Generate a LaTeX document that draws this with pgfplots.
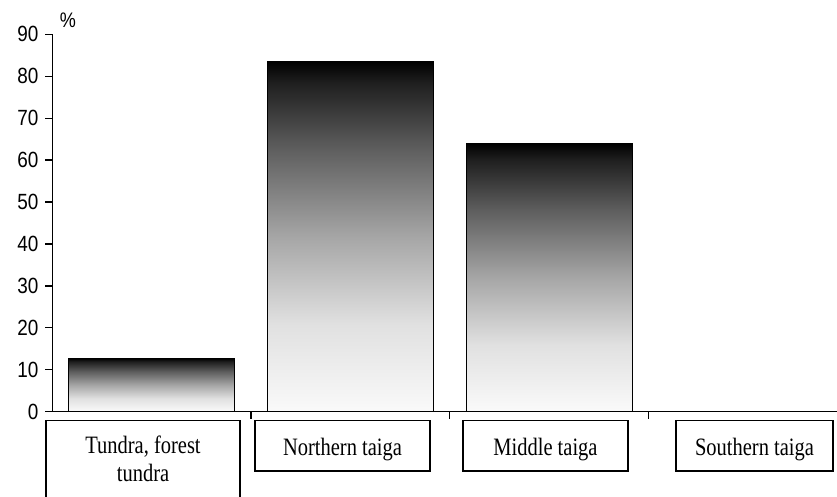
\documentclass[border=0pt]{standalone}
\usepackage{fontspec}
\setmainfont{Liberation Serif}[FakeStretch=0.82]
\newfontfamily\ticksans{Liberation Sans}[FakeStretch=0.86]
\usepackage{pgfplots}
\pgfplotsset{compat=1.18}

% bar gradient: black at the top, fading quickly to almost white
\pgfdeclareverticalshading{barshade}{100bp}{%
  color(0bp)=(black!2); color(25bp)=(black!2); color(37.5bp)=(black!12);
  color(50bp)=(black!35); color(62.5bp)=(black!63); color(72bp)=(black!88);
  color(75bp)=(black); color(100bp)=(black)}

\pgfplotsset{
  zonebar/.style={ybar, bar width=0.834, bar shift=0pt,
    draw=black, line width=0.8bp, shade, shading=barshade},
}

\begin{document}
\begin{tikzpicture}
\begin{axis}[
  at={(0,0)}, anchor=south west,
  scale only axis, width=784.7bp, height=377.4bp,
  xmin=-0.5, xmax=3.449, ymin=0, ymax=90,
  axis lines=left,
  axis line style={-, line width=1.3bp},
  ytick={0,10,...,90},
  xtick={0.5,1.5,2.5}, xticklabels={},
  tick align=outside, major tick length=6.8bp,
  tick style={line width=1.3bp, black},
  /pgf/number format/assume math mode=true,
  yticklabel style={font=\ticksans\fontsize{22bp}{22bp}\selectfont, xshift=-3.5bp},
  clip=false,
]
% share of area by zone, %; one plot per bar so each gets its own gradient
\addplot[zonebar] coordinates {(0,12.7)};
\addplot[zonebar] coordinates {(1,83.5)};
\addplot[zonebar] coordinates {(2,64.0)};
\addplot[zonebar] coordinates {(3,0)};
\end{axis}

% unit label of the value axis
\node[font=\ticksans\fontsize{21bp}{21bp}\selectfont] at (15.7bp,391.7bp) {\%};

% framed zone names under the axis
\begin{scope}[line width=1.5bp, font=\fontsize{25bp}{30bp}\selectfont]
  \draw (-6.3bp,-110bp) -- (-6.3bp,-8.8bp) -- (187.7bp,-8.8bp) -- (187.7bp,-110bp);
  \node[anchor=base] at (90.7bp,-41.6bp) {Tundra, forest};
  \node[anchor=base] at (90.7bp,-70bp) {tundra};

  \draw (202.7bp,-8.8bp) rectangle (377.7bp,-59.3bp);
  \node[anchor=base] at (290.2bp,-43.3bp) {Northern taiga};

  \draw (410.7bp,-8.8bp) rectangle (575.7bp,-59.3bp);
  \node[anchor=base] at (493.2bp,-43.3bp) {Middle taiga};

  \draw (623.7bp,-8.8bp) rectangle (780.7bp,-59.3bp);
  \node[anchor=base] at (702.2bp,-43.3bp) {Southern taiga};
\end{scope}

\pgfresetboundingbox
\useasboundingbox (-52.3bp,-85.3bp) rectangle (784.7bp,411.7bp);
\end{tikzpicture}
\end{document}
